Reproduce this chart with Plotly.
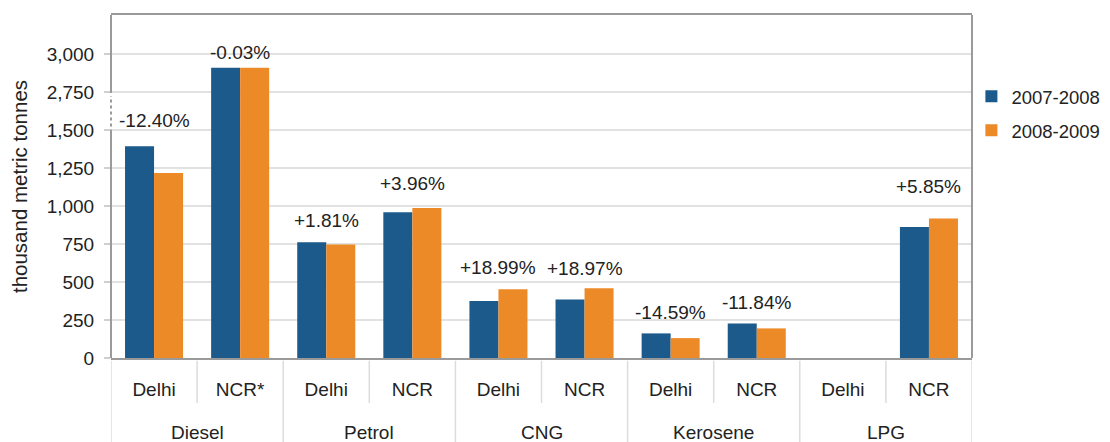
import plotly.graph_objects as go

# ---------------- data ----------------
groups = ["Diesel", "Petrol", "CNG", "Kerosene", "LPG"]
regions = ["Delhi", "NCR*", "Delhi", "NCR", "Delhi", "NCR", "Delhi", "NCR", "Delhi", "NCR"]
series_names = ["2007-2008", "2008-2009"]
values_2007_08 = [1395, 2912, 762, 960, 375, 386, 162, 228, 0, 863]
values_2008_09 = [1218, 2911, 747, 988, 452, 460, 131, 195, 0, 918]
change_labels = ["-12.40%", "-0.03%", "+1.81%", "+3.96%", "+18.99%", "+18.97%",
                 "-14.59%", "-11.84%", "", "+5.85%"]
y_tick_values = [0, 250, 500, 750, 1000, 1250, 1500, 2750, 3000]

# ---------------- broken axis mapping ----------------
BREAK_LOW = 1500      # last value shown below the break
BREAK_HIGH = 2750     # first value shown above the break
STEP = 250            # the break takes one tick interval


def to_axis(v):
    if v <= BREAK_LOW:
        return v
    return v - (BREAK_HIGH - BREAK_LOW - STEP)


# ---------------- style ----------------
FONT = "Liberation Sans, Arial, sans-serif"
TEXT = "#222222"
COLORS = ["#1b5a8b", "#ed8a28"]
AXIS_COLOR = "#9a9a9a"
GRID_COLOR = "#e2e2e2"
SEP_COLOR = "#dcdcdc"
label_px_offsets = [26, 15, 22, 24, 22, 20, 21, 21, 0, 32]
Y_TOP = 2259

x_pos = list(range(len(regions)))

fig = go.Figure()
for name, vals, col in zip(series_names, [values_2007_08, values_2008_09], COLORS):
    fig.add_trace(go.Bar(
        x=x_pos,
        y=[to_axis(v) for v in vals],
        customdata=vals,
        name=name,
        marker=dict(color=col, line=dict(width=0)),
        legendgroup=name,
        hovertemplate="%{customdata:,}<extra>" + name + "</extra>",
    ))

# change labels above each pair
for i, lab in enumerate(change_labels):
    if not lab:
        continue
    top = max(to_axis(values_2007_08[i]), to_axis(values_2008_09[i]))
    fig.add_annotation(x=x_pos[i], y=top, xref="x", yref="y", text=lab,
                       showarrow=False, yanchor="middle", yshift=label_px_offsets[i],
                       font=dict(size=19, color=TEXT, family=FONT))

# group labels
for g, name in enumerate(groups):
    fig.add_annotation(x=2 * g + 0.5, y=-0.216, xref="x", yref="paper", text=name,
                       showarrow=False, yanchor="middle",
                       font=dict(size=19, color=TEXT, family=FONT))

shapes = []
# group dividers (full height below axis)
for g in range(len(groups) + 1):
    xv = 2 * g - 0.5
    shapes.append(dict(type="line", xref="x", yref="paper", x0=xv, x1=xv,
                       y0=-0.008, y1=-0.26, line=dict(color=SEP_COLOR, width=1.5)))
# region dividers (short)
for g in range(len(groups)):
    xv = 2 * g + 0.5
    shapes.append(dict(type="line", xref="x", yref="paper", x0=xv, x1=xv,
                       y0=-0.008, y1=-0.131, line=dict(color=SEP_COLOR, width=1.5)))
# left axis with break marker
shapes.append(dict(type="line", xref="paper", yref="y", x0=0, x1=0,
                   y0=0, y1=to_axis(BREAK_LOW) + 5, line=dict(color=AXIS_COLOR, width=2)))
shapes.append(dict(type="line", xref="paper", yref="y", x0=0, x1=0,
                   y0=to_axis(BREAK_LOW) + 25, y1=to_axis(BREAK_HIGH) - 25,
                   line=dict(color=AXIS_COLOR, width=2, dash="dot")))
shapes.append(dict(type="line", xref="paper", yref="y", x0=0, x1=0,
                   y0=to_axis(BREAK_HIGH) - 5, y1=Y_TOP, line=dict(color=AXIS_COLOR, width=2)))
# right border
shapes.append(dict(type="line", xref="paper", yref="paper", x0=1, x1=1,
                   y0=0, y1=1, line=dict(color=AXIS_COLOR, width=2)))

fig.update_layout(
    width=1110, height=434,
    margin=dict(l=103, r=146, t=7, b=84),
    paper_bgcolor="white", plot_bgcolor="white",
    font=dict(family=FONT, size=19, color=TEXT),
    barmode="group", bargap=0.326, bargroupgap=0,
    shapes=shapes,
    legend=dict(x=0.9993, xanchor="left", y=0.817, yanchor="top",
                font=dict(size=18.5, color=TEXT, family=FONT),
                tracegroupgap=7, bgcolor="rgba(0,0,0,0)"),
    xaxis=dict(range=[-0.5, 9.5], tickvals=x_pos, ticktext=regions,
               automargin=False,
               showgrid=False, zeroline=False, showline=True, mirror=True,
               linecolor=AXIS_COLOR, linewidth=2, ticks="",
               ticklabelstandoff=13,
               tickfont=dict(size=19, color=TEXT, family=FONT)),
    yaxis=dict(range=[0, Y_TOP], tickvals=[to_axis(v) for v in y_tick_values],
               ticktext=[f"{v:,}" for v in y_tick_values],
               automargin=False,
               showgrid=True, gridcolor=GRID_COLOR, gridwidth=1.5,
               zeroline=False, showline=False,
               ticks="outside", ticklen=6, tickwidth=1.5, tickcolor="#cfcfcf",
               ticklabelstandoff=6,
               tickfont=dict(size=19, color=TEXT, family=FONT),
               title=dict(text="thousand metric tonnes", standoff=14,
                          font=dict(size=20.5, color=TEXT, family=FONT))),
)

fig.write_html("out.html")
